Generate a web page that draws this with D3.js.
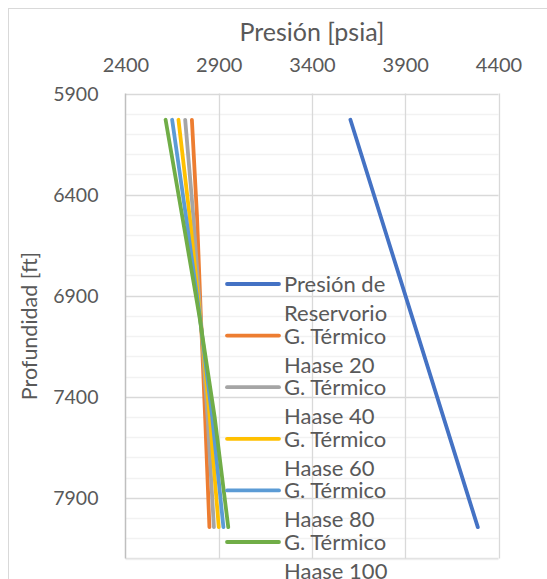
<!DOCTYPE html>
<html><head><meta charset="utf-8">
<script src="https://cdn.jsdelivr.net/npm/d3@7"></script>
<style>
html,body{margin:0;padding:0;background:#fff;}
svg{display:block;font-family:Lato,"Open Sans",sans-serif;}
</style></head>
<body>
<svg id="chart" width="547" height="579"></svg>
<script>
// ---- data ----
const depths = [6030, 6500, 7000, 7500, 8045];
const reservorioDepths = [6030, 7000, 8045];
const reservorio = [3606, 3935, 4289];
const haase20 = [2756, 2783, 2804, 2827, 2850];
const haase40 = [2720, 2763, 2802, 2840, 2874];
const haase60 = [2684, 2743, 2800, 2852, 2900];
const haase80 = [2650, 2723, 2798, 2865, 2925];
const haase100 = [2615, 2703, 2796, 2878, 2951];
const xTicks = [2400, 2900, 3400, 3900, 4400];
const yTicks = [5900, 6400, 6900, 7400, 7900];
const yMinor = d3.range(5900, 8201, 100);
const legendLabels = [
  ["Presión de", "Reservorio"],
  ["G. Térmico", "Haase 20"],
  ["G. Térmico", "Haase 40"],
  ["G. Térmico", "Haase 60"],
  ["G. Térmico", "Haase 80"],
  ["G. Térmico", "Haase 100"]
];
const colors = ["#4472C4", "#ED7D31", "#A5A5A5", "#FFC000", "#5B9BD5", "#70AD47"];

const series = [
  {d: reservorioDepths, p: reservorio},
  {d: depths, p: haase20},
  {d: depths, p: haase40},
  {d: depths, p: haase60},
  {d: depths, p: haase80},
  {d: depths, p: haase100}
];

const svg = d3.select("#chart");
const L = 125.5, R = 498.5, T = 93.5, B = 558.5;
const x = d3.scaleLinear().domain([2400, 4400]).range([L, R]);
const y = d3.scaleLinear().domain([5900, 8200]).range([T, B]);
const txt = "#595959";

// outer border
svg.append("rect").attr("x", 8.5).attr("y", 8.5).attr("width", 580).attr("height", 620)
  .attr("fill", "none").attr("stroke", "#D9D9D9");

// minor gridlines
svg.append("g").selectAll("line").data(yMinor.filter(v => v % 500 !== 400)).join("line")
  .attr("x1", L).attr("x2", R).attr("y1", d => Math.round(y(d)) + 0.5).attr("y2", d => Math.round(y(d)) + 0.5)
  .attr("stroke", "#F2F2F2").attr("stroke-width", 1.3);
// major horizontal gridlines
svg.append("g").selectAll("line").data(yTicks).join("line")
  .attr("x1", L).attr("x2", R).attr("y1", d => Math.round(y(d)) + 0.5).attr("y2", d => Math.round(y(d)) + 0.5)
  .attr("stroke", "#D9D9D9").attr("stroke-width", 1.3);
// bottom edge
svg.append("line").attr("x1", L).attr("x2", R).attr("y1", B).attr("y2", B)
  .attr("stroke", "#E3E3E3").attr("stroke-width", 1.3);
// vertical gridlines
svg.append("g").selectAll("line").data(xTicks.slice(1)).join("line")
  .attr("y1", T).attr("y2", B).attr("x1", d => Math.round(x(d)) + 0.5).attr("x2", d => Math.round(x(d)) + 0.5)
  .attr("stroke", "#D9D9D9").attr("stroke-width", 1.3);
// left axis line
svg.append("line").attr("x1", L).attr("x2", L).attr("y1", T).attr("y2", B)
  .attr("stroke", "#BFBFBF").attr("stroke-width", 1.5);

// x axis (top)
const xAxis = d3.axisTop(x).tickValues(xTicks).tickSize(0).tickPadding(0).tickFormat(d3.format("d"));
const gx = svg.append("g").attr("transform", `translate(0,${T})`).call(xAxis);
gx.select(".domain").remove();
gx.selectAll("text").attr("y", -22).attr("font-size", 20).attr("fill", txt).attr("font-family", "Lato");

// y axis (left)
const yAxis = d3.axisLeft(y).tickValues(yTicks).tickSize(0).tickPadding(0).tickFormat(d3.format("d"));
const gy = svg.append("g").attr("transform", `translate(${L},0)`).call(yAxis);
gy.select(".domain").remove();
gy.selectAll("text").attr("x", -27).attr("dy", "0.35em").attr("font-size", 19.5).attr("fill", txt).attr("font-family", "Lato");

// axis titles
svg.append("text").attr("x", (L + R) / 2).attr("y", 41).attr("text-anchor", "middle")
  .attr("font-size", 25).attr("fill", txt).text("Presión [psia]");
svg.append("text").attr("transform", `translate(37,${(T + B) / 2}) rotate(-90)`).attr("text-anchor", "middle")
  .attr("font-size", 21.5).attr("fill", txt).text("Profundidad [ft]");

// series lines
const line = d3.line().x(d => x(d[1])).y(d => y(d[0]));
series.forEach((s, i) => {
  svg.append("path").datum(s.d.map((dd, j) => [dd, s.p[j]]))
    .attr("d", line).attr("fill", "none").attr("stroke", colors[i])
    .attr("stroke-width", 3.8).attr("stroke-linecap", "round").attr("stroke-linejoin", "round");
});

// legend
const lg = svg.append("g");
legendLabels.forEach((lab, i) => {
  const cy = 284 + i * 51.6;
  lg.append("line").attr("x1", 227).attr("x2", 279).attr("y1", cy).attr("y2", cy)
    .attr("stroke", colors[i]).attr("stroke-width", 3.8).attr("stroke-linecap", "round");
  lab.forEach((t, k) => {
    lg.append("text").attr("x", 284).attr("y", cy + k * 29).attr("dy", "0.36em")
      .attr("font-size", 22).attr("fill", txt).text(t);
  });
});
</script>
</body></html>
